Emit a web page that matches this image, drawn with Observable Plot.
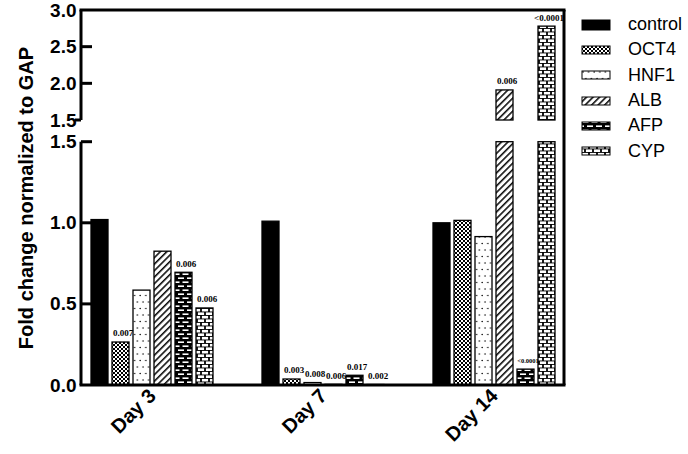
<!DOCTYPE html>
<html><head><meta charset="utf-8">
<script src="https://cdn.jsdelivr.net/npm/d3@7"></script>
<script src="https://cdn.jsdelivr.net/npm/@observablehq/plot@0.6"></script>
<style>
body{margin:0;background:#fff;}
#wrap{position:relative;width:688px;height:454px;font-family:"Liberation Sans",Arial,sans-serif;background:#fff;}
#chart{position:absolute;left:0;top:0;}
#legend{position:absolute;left:581px;top:12px;}
.row{height:25.3px;display:flex;align-items:center;font-size:18px;color:#000;}
.row svg{margin-right:17px;flex:none;}
#chart g[aria-label="y-axis tick label"] text{font-size:19px;font-weight:bold;fill:#000;}
#chart g[aria-label="y-axis label"] text{font-size:20px;font-weight:bold;fill:#000;}
#chart g[aria-label="fx-axis tick label"] text{font-size:20px;font-weight:bold;fill:#000;}
</style></head><body>
<svg width="0" height="0" style="position:absolute">
<defs>
<pattern id="pat-control" width="4" height="4" patternUnits="userSpaceOnUse"><rect width="4" height="4" fill="#000"/></pattern>
<pattern id="pat-OCT4" width="4" height="4" patternUnits="userSpaceOnUse"><rect width="4" height="4" fill="#fff"/><rect x="0" y="0" width="2" height="2" fill="#000"/><rect x="2" y="2" width="2" height="2" fill="#000"/></pattern>
<pattern id="pat-HNF1" width="5.6" height="13" patternUnits="userSpaceOnUse"><rect width="5.6" height="13" fill="#fff"/><circle cx="2" cy="3" r="0.75" fill="#000"/><circle cx="4.8" cy="9.5" r="0.75" fill="#000"/></pattern>
<pattern id="pat-ALB" width="4.6" height="4.6" patternUnits="userSpaceOnUse" patternTransform="rotate(45)"><rect width="4.6" height="4.6" fill="#fff"/><line x1="0.8" y1="0" x2="0.8" y2="4.6" stroke="#000" stroke-width="1.5"/></pattern>
<pattern id="pat-AFP" width="9" height="8" patternUnits="userSpaceOnUse"><rect width="9" height="8" fill="#000"/><rect x="1.5" y="1.4" width="6" height="1.6" fill="#fff"/><rect x="6" y="5.4" width="6" height="1.6" fill="#fff"/><rect x="-3" y="5.4" width="6" height="1.6" fill="#fff"/></pattern>
<pattern id="pat-CYP" width="8" height="7" patternUnits="userSpaceOnUse"><rect width="8" height="7" fill="#000"/><rect x="0.9" y="0.9" width="6.2" height="2.6" fill="#fff"/><rect x="4.9" y="4.4" width="6.2" height="2.6" fill="#fff"/><rect x="-3.1" y="4.4" width="6.2" height="2.6" fill="#fff"/></pattern>
</defs></svg>
<div id="wrap"><div id="chart"></div><div id="legend"></div></div>
<script>
const days = ["Day 3", "Day 7", "Day 14"];
const genes = ["control", "OCT4", "HNF1", "ALB", "AFP", "CYP"];
const control = [1.02, 1.01, 1.00];
const oct4 = [0.265, 0.037, 1.015];
const hnf1 = [0.585, 0.015, 0.915];
const alb = [0.825, 0.004, 1.91];
const afp = [0.695, 0.06, 0.098];
const cyp = [0.475, 0.003, 2.78];
const controlP = [null, null, null];
const oct4P = ["0.007", "0.003", null];
const hnf1P = [null, "0.008", null];
const albP = [null, "0.006", "0.006"];
const afpP = ["0.006", "0.017", "<0.0001"];
const cypP = ["0.006", "0.002", "<0.0001"];
const yTicks = [0, 0.5, 1.0, 1.5, 2.0, 2.5, 3.0];
const breakAt = 1.5;      // axis break value
const eps = 1e-6;         // upper segment starts just above the break
const yTop = 3.0;

const series = {control, OCT4: oct4, HNF1: hnf1, ALB: alb, AFP: afp, CYP: cyp};
const pvals = {control: controlP, OCT4: oct4P, HNF1: hnf1P, ALB: albP, AFP: afpP, CYP: cypP};
const data = [];
for (const g of genes) days.forEach((d, i) => data.push({day: d, gene: g, value: series[g][i], p: pvals[g][i]}));
const upper = data.filter(d => d.value > breakAt);
const labeled = data.filter(d => d.p);

const W = 568, H = 454, mL = 87, mR = 10, mT = 10, mB = 69;
const yDomain = [0, breakAt, breakAt + eps, yTop];
const yRange = [H - mB, 141.7, 120, mT];
const axisTicks = yTicks.map(t => t === breakAt ? [t, t + eps] : [t]).flat();

const plot = Plot.plot({
  width: W, height: H,
  marginLeft: mL, marginRight: mR, marginTop: mT, marginBottom: mB,
  style: {fontFamily: "'Liberation Sans', Arial, sans-serif", background: "#fff", overflow: "visible"},
  fx: {domain: days, paddingInner: 0.2536, paddingOuter: 0, label: null, axis: "bottom", tickRotate: -45, tickSize: 0, tickPadding: 7},
  x: {domain: genes, paddingInner: 0.2, paddingOuter: 0.1, axis: null},
  y: {type: "linear", domain: yDomain, range: yRange, axis: null},
  color: {type: "identity"},
  marks: [
    Plot.barY(data, {fx: "day", x: "gene", y1: 0, y2: d => Math.min(d.value, breakAt), fill: d => `url(#pat-${d.gene})`, stroke: "#000", strokeWidth: 1.3}),
    Plot.barY(upper, {fx: "day", x: "gene", y1: breakAt + eps, y2: "value", fill: d => `url(#pat-${d.gene})`, stroke: "#000", strokeWidth: 1.3}),
    Plot.text(labeled, {fx: "day", x: "gene", y: "value", text: "p", dy: -9, dx: 2, lineAnchor: "middle",
      fontFamily: "'Liberation Serif', 'Times New Roman', serif", fontWeight: "bold",
      fontSize: d => (d.p.startsWith("<") && d.value < 1) ? 6.5 : 9, fill: "#000"}),
    Plot.axisY({ticks: axisTicks, tickFormat: d => d.toFixed(1), tickSize: 0, tickPadding: 12,
      label: "Fold change normalized to GAP", labelAnchor: "center", labelArrow: "none", labelOffset: 70})
  ]
});
document.getElementById("chart").appendChild(plot);

// axis lines, inward ticks and frame, positioned by the y scale
const ys = d3.scaleLinear().domain(yDomain).range(yRange);
const L = mL - 6, R = W - mR + 6;
const ns = "http://www.w3.org/2000/svg";
const frame = document.createElementNS(ns, "g");
plot.appendChild(frame);
const seg = (x1, y1, x2, y2) => {
  const l = document.createElementNS(ns, "line");
  l.setAttribute("x1", x1); l.setAttribute("y1", y1); l.setAttribute("x2", x2); l.setAttribute("y2", y2);
  l.setAttribute("stroke", "#000"); l.setAttribute("stroke-width", "3");
  frame.appendChild(l);
};
seg(L - 1.5, ys(0), R + 1.5, ys(0));
seg(L - 1.5, ys(yTop), R + 1.5, ys(yTop));
seg(R, ys(yTop), R, ys(0));
seg(L, ys(0), L, ys(breakAt));
seg(L, ys(breakAt + eps), L, ys(yTop));
for (const t of yTicks) {
  if (t === 0 || t === yTop) continue;
  seg(L, ys(t), L + 11, ys(t));
}
seg(L - 6, ys(breakAt + eps), L, ys(breakAt + eps));

// legend
const leg = document.getElementById("legend");
for (const gname of genes) {
  const row = document.createElement("div");
  row.className = "row";
  const h = gname === "control" ? 10 : 8;
  row.innerHTML = `<svg width="30" height="12"><rect x="1" y="${(12 - h) / 2}" width="28" height="${h}" fill="url(#pat-${gname})" stroke="#000" stroke-width="1"/></svg><span>${gname}</span>`;
  leg.appendChild(row);
}
</script>
</body></html>
